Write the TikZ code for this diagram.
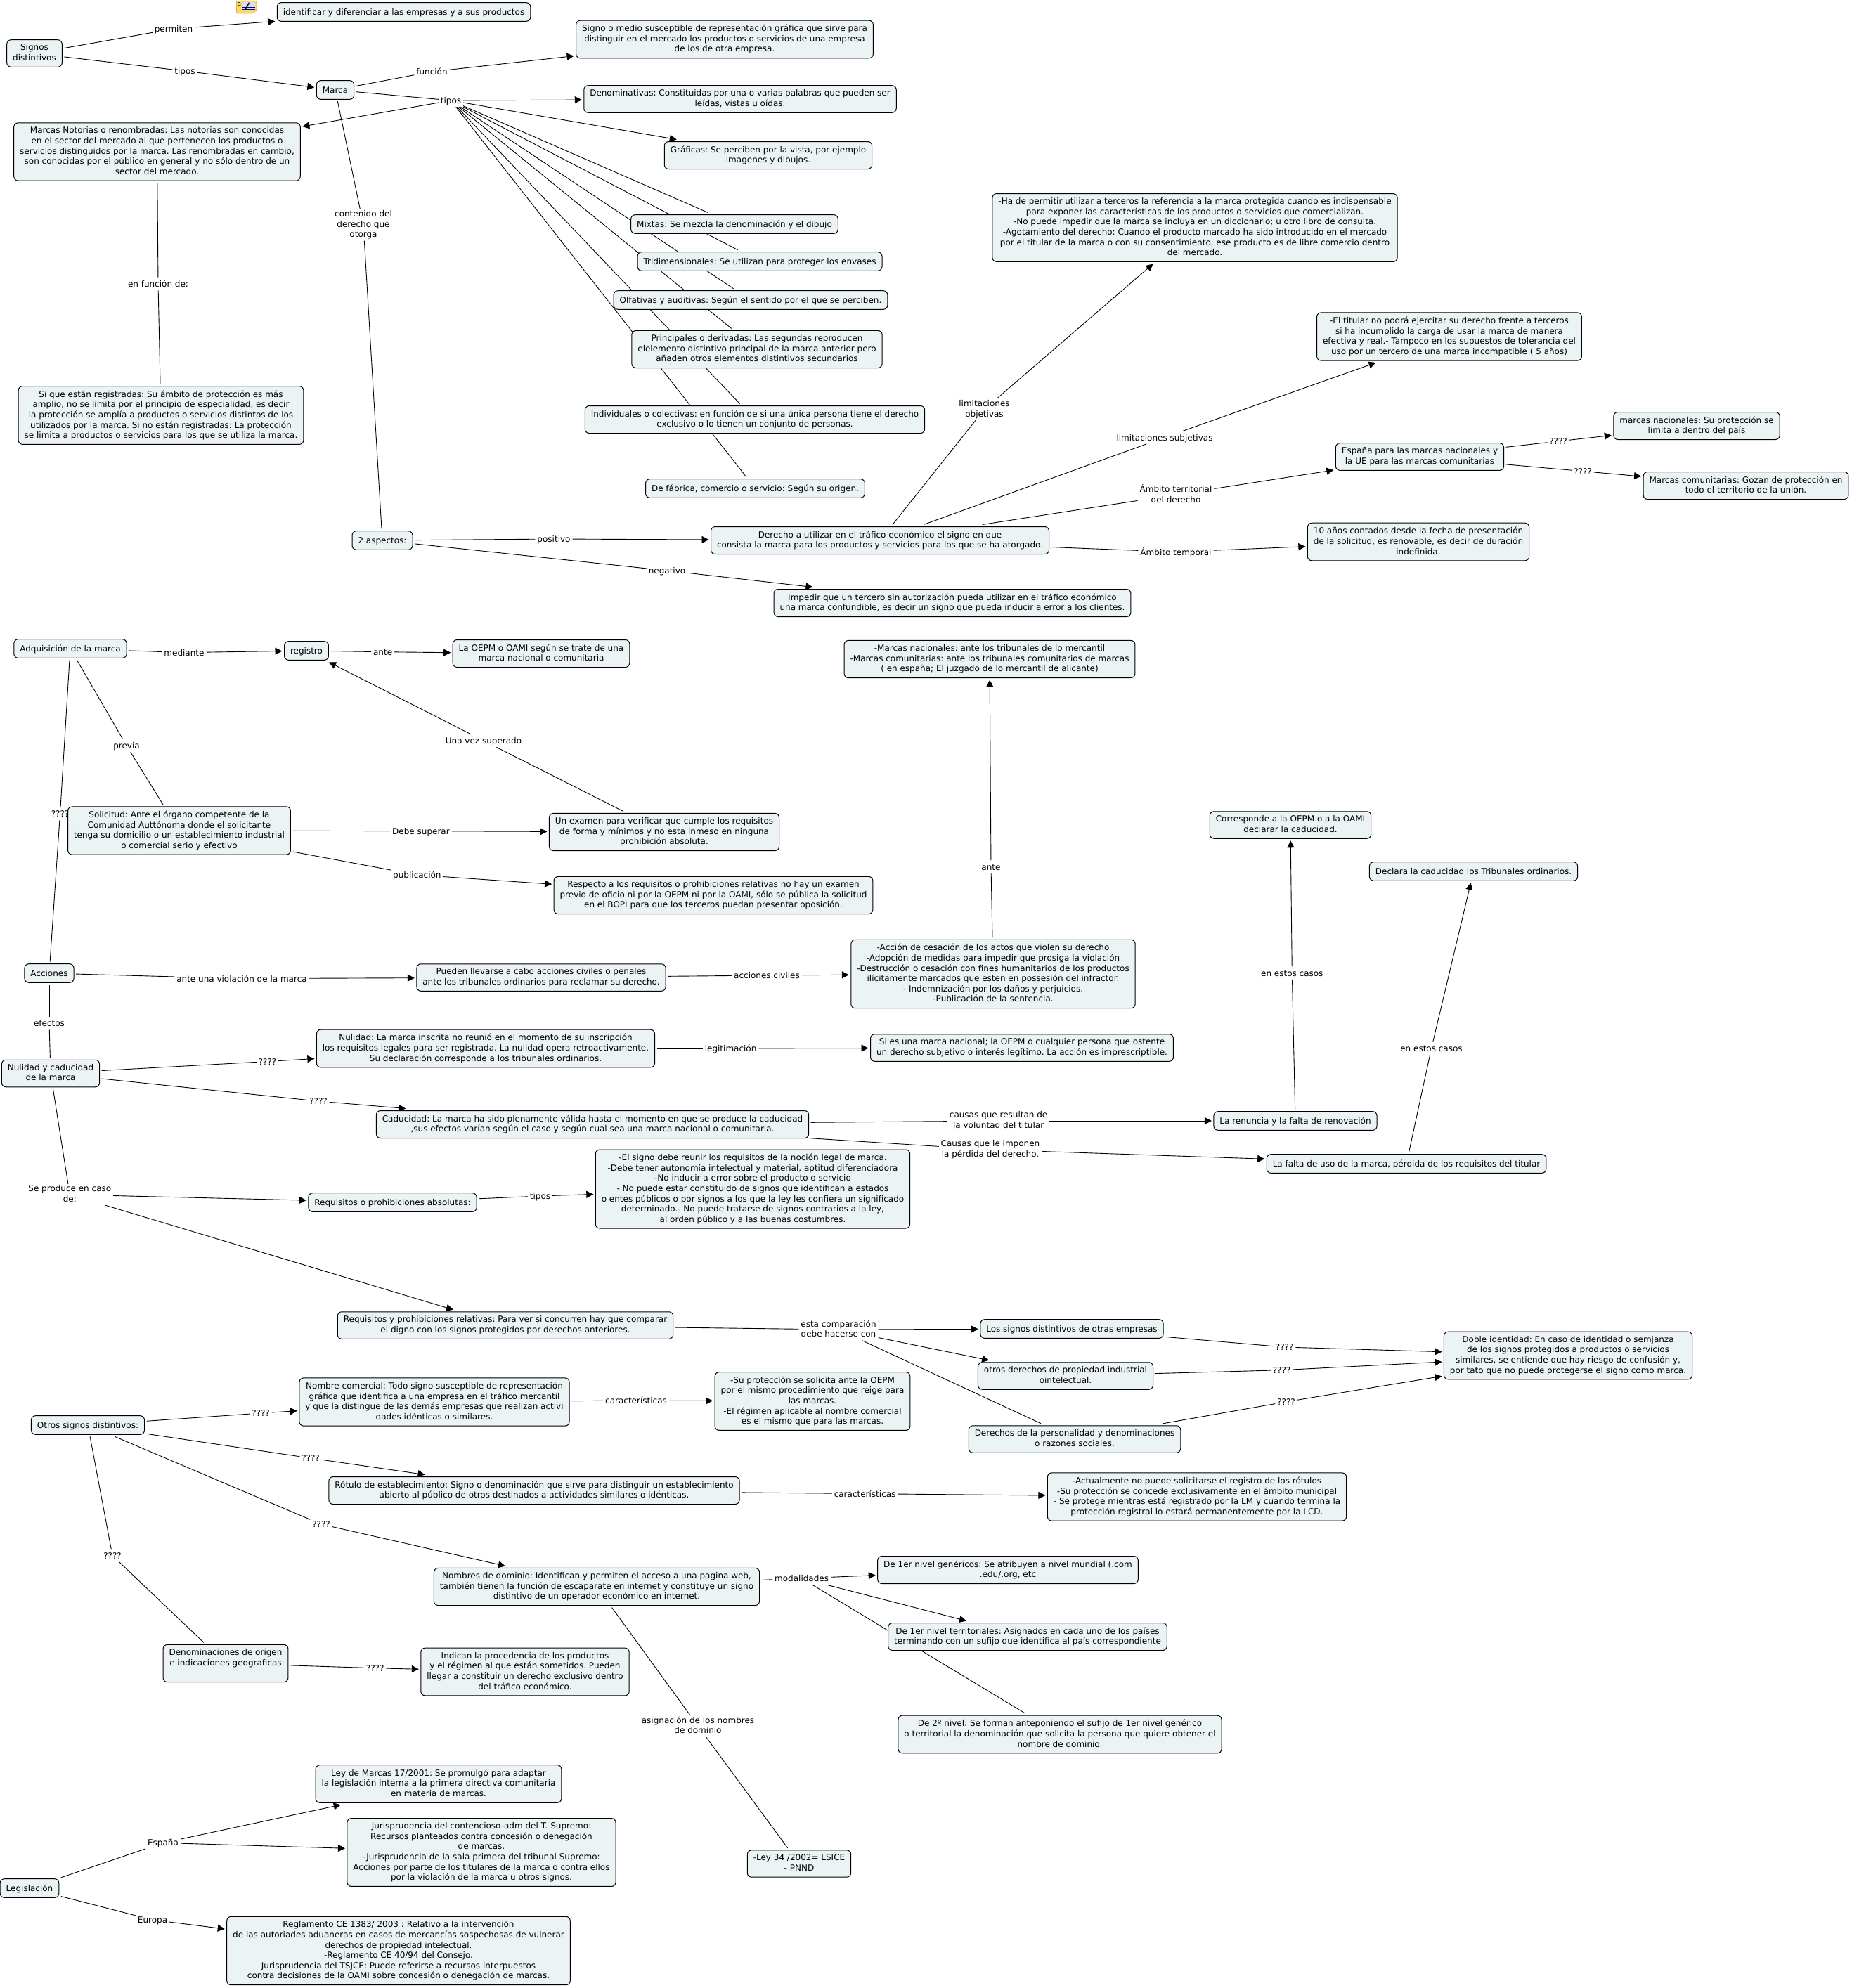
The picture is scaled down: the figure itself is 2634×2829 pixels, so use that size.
\documentclass[tikz,border=0pt]{standalone}
\usepackage{fontspec}
\setmainfont{DejaVu Sans}
\frenchspacing
\usetikzlibrary{arrows.meta, backgrounds}
\definecolor{BoxFill}{HTML}{ECF3F5}
\definecolor{NoteYellow}{HTML}{FFD968}
\definecolor{NoteEdge}{HTML}{E3B23C}
\definecolor{NotePanel}{HTML}{CFE3F5}
\newcommand{\mapstrut}{\rule[-2.8pt]{0pt}{14.6pt}}
\tikzset{
  map text/.style={
    font=\fontsize{12}{14.6}\selectfont,
    align=center,
    execute at begin node=\mapstrut,
    execute at end node=\mapstrut,
  },
  concept/.style={
    map text,
    draw=black,
    line width=1pt,
    fill=BoxFill,
    rectangle,
    rounded corners=6pt,
    inner xsep=8.5pt,
    inner ysep=6pt,
    outer sep=3pt,
  },
  phrase/.style={
    map text,
    inner xsep=2pt,
    inner ysep=1pt,
    outer sep=1pt,
  },
  link plain/.style={
    draw=black,
    line width=0.9pt,
  },
  link arrow/.style={
    link plain,
    -{Triangle[length=10pt,width=10pt]},
  },
}
\begin{document}
\begin{tikzpicture}[x=1pt,y=-1pt]
  \useasboundingbox (0,0) rectangle (2634,2829);

  \node[concept] (signos) at (49,76) {Signos\\distintivos};
  \node[concept] (identificar) at (574.5,17) {identificar y diferenciar a las empresas y a sus productos};
  \node[concept] (marca) at (477,128) {Marca};
  \node[concept] (signomedio) at (1031,56) {Signo o medio susceptible de representación gráfica que sirve para\\distinguir en el mercado los productos o servicios de una empresa\\de los de otra empresa.};
  \node[concept] (denominativas) at (1053,141) {Denominativas: Constituidas por una o varias palabras que pueden ser\\leídas, vistas u oídas.};
  \node[concept] (graficas) at (1093,221) {Gráficas: Se perciben por la vista, por ejemplo\\imagenes y dibujos.};
  \node[concept] (notorias) at (223.5,216) {Marcas Notorias o renombradas: Las notorias son conocidas\\en el sector del mercado al que pertenecen los productos o\\servicios distinguidos por la marca. Las renombradas en cambio,\\son conocidas por el público en general y no sólo dentro de un\\sector del mercado.};
  \node[concept] (mixtas) at (1045,319) {Mixtas: Se mezcla la denominación y el dibujo};
  \node[concept] (tridim) at (1081,372) {Tridimensionales: Se utilizan para proteger los envases};
  \node[concept] (olfativas) at (1068,427) {Olfativas y auditivas: Según el sentido por el que se perciben.};
  \node[concept] (principales) at (1077,497) {Principales o derivadas: Las segundas reproducen\\elelemento distintivo principal de la marca anterior pero\\añaden otros elementos distintivos secundarios};
  \node[concept] (individuales) at (1074,597) {Individuales o colectivas: en función de si una única persona tiene el derecho\\exclusivo o lo tienen un conjunto de personas.};
  \node[concept] (fabrica) at (1074.5,695) {De fábrica, comercio o servicio: Según su origen.};
  \node[concept] (registradas) at (229,591) {Si que están registradas: Su ámbito de protección es más\\amplio, no se limita por el principio de especialidad, es decir\\la protección se amplía a productos o servicios distintos de los\\utilizados por la marca. Si no están registradas: La protección\\se limita a productos o servicios para los que se utiliza la marca.};
  \node[concept] (aspectos) at (544,769) {2 aspectos:};
  \node[concept] (derecho) at (1252,769) {Derecho a utilizar en el tráfico económico el signo en que\\consista la marca para los productos y servicios para los que se ha atorgado.};
  \node[concept] (impedir) at (1355,858) {Impedir que un tercero sin autorización pueda utilizar en el tráfico económico\\una marca confundible, es decir un signo que pueda inducir a error a los clientes.};
  \node[concept] (permitir) at (1700,324) {-Ha de permitir utilizar a terceros la referencia a la marca protegida cuando es indispensable\\para exponer las características de los productos o servicios que comercializan.\\-No puede impedir que la marca se incluya en un diccionario; u otro libro de consulta.\\-Agotamiento del derecho: Cuando el producto marcado ha sido introducido en el mercado\\por el titular de la marca o con su consentimiento, ese producto es de libre comercio dentro\\del mercado.};
  \node[concept] (titular) at (2062,479) {-El titular no podrá ejercitar su derecho frente a terceros\\si ha incumplido la carga de usar la marca de manera\\efectiva y real.- Tampoco en los supuestos de tolerancia del\\uso por un tercero de una marca incompatible ( 5 años)};
  \node[concept] (espana) at (2020,650) {España para las marcas nacionales y\\la UE para las marcas comunitarias};
  \node[concept] (nacionales) at (2414,606) {marcas nacionales: Su protección se\\limita a dentro del país};
  \node[concept] (comunitarias) at (2484,691) {Marcas comunitarias: Gozan de protección en\\todo el territorio de la unión.};
  \node[concept] (anos) at (2018,771) {10 años contados desde la fecha de presentación\\de la solicitud, es renovable, es decir de duración\\indefinida.};

  \node[concept] (adquisicion) at (100,923) {Adquisición de la marca};
  \node[concept] (registro) at (436,926) {registro};
  \node[concept] (oepm) at (770,930) {La OEPM o OAMI según se trate de una\\marca nacional o comunitaria};
  \node[concept] (solicitud) at (255,1182) {Solicitud: Ante el órgano competente de la\\Comunidad Auttónoma donde el solicitante\\tenga su domicilio o un establecimiento industrial\\o comercial serio y efectivo};
  \node[concept] (examen) at (945,1184) {Un examen para verificar que cumple los requisitos\\de forma y mínimos y no esta inmeso en ninguna\\prohibición absoluta.};
  \node[concept] (respecto) at (1015,1274) {Respecto a los requisitos o prohibiciones relativas no hay un examen\\previo de oficio ni por la OEPM ni por la OAMI, sólo se pública la solicitud\\en el BOPI para que los terceros puedan presentar oposición.};
  \node[concept] (tribunales) at (1408,938) {-Marcas nacionales: ante los tribunales de lo mercantil\\-Marcas comunitarias: ante los tribunales comunitarios de marcas\\( en españa; El juzgado de lo mercantil de alicante)};
  \node[concept] (acciones) at (70,1385) {Acciones};
  \node[concept] (pueden) at (770,1391) {Pueden llevarse a cabo acciones civiles o penales\\ante los tribunales ordinarios para reclamar su derecho.};
  \node[concept] (cesacion) at (1413,1386) {-Acción de cesación de los actos que violen su derecho\\-Adopción de medidas para impedir que prosiga la violación\\-Destrucción o cesación con fines humanitarios de los productos\\ilícitamente marcados que esten en possesión del infractor.\\- Indemnización por los daños y perjuicios.\\-Publicación de la sentencia.};
  \node[concept] (nulcad) at (72,1527.5) {Nulidad y caducidad\\de la marca};
  \node[concept] (nulidad) at (691,1492) {Nulidad: La marca inscrita no reunió en el momento de su inscripción\\los requisitos legales para ser registrada. La nulidad opera retroactivamente.\\Su declaración corresponde a los tribunales ordinarios.};
  \node[concept] (siesuna) at (1454,1491) {Si es una marca nacional; la OEPM o cualquier persona que ostente\\un derecho subjetivo o interés legítimo. La acción es imprescriptible.};
  \node[concept] (corresponde) at (1836,1174) {Corresponde a la OEPM o a la OAMI\\declarar la caducidad.};
  \node[concept] (declara) at (2096.5,1240) {Declara la caducidad los Tribunales ordinarios.};
  \node[concept] (renuncia) at (1843,1595) {La renuncia y la falta de renovación};
  \node[concept] (falta) at (2001,1656) {La falta de uso de la marca, pérdida de los requisitos del titular};
  \node[concept] (caducidad) at (843,1600) {Caducidad: La marca ha sido plenamente válida hasta el momento en que se produce la caducidad\\,sus efectos varían según el caso y según cual sea una marca nacional o comunitaria.};
  \node[concept] (absolutas) at (558.5,1711) {Requisitos o prohibiciones absolutas:};
  \node[concept] (elsigno) at (1071,1692) {-El signo debe reunir los requisitos de la noción legal de marca.\\-Debe tener autonomía intelectual y material, aptitud diferenciadora\\-No inducir a error sobre el producto o servicio\\- No puede estar constituido de signos que identifican a estados\\o entes públicos o por signos a los que la ley les confiera un significado\\determinado.- No puede tratarse de signos contrarios a la ley,\\al orden público y a las buenas costumbres.};

  \node[concept] (relativas) at (719,1886) {Requisitos y prohibiciones relativas: Para ver si concurren hay que comparar\\el digno con los signos protegidos por derechos anteriores.};
  \node[concept] (lossignos) at (1525,1891) {Los signos distintivos de otras empresas};
  \node[concept] (otrosder) at (1516,1958) {otros derechos de propiedad industrial\\ointelectual.};
  \node[concept] (personalidad) at (1529,2048) {Derechos de la personalidad y denominaciones\\o razones sociales.};
  \node[concept] (doble) at (2231,1929) {Doble identidad: En caso de identidad o semjanza\\de los signos protegidos a productos o servicios\\similares, se entiende que hay riesgo de confusión y,\\por tato que no puede protegerse el signo como marca.};
  \node[concept] (otros) at (125,2028) {Otros signos distintivos:};
  \node[concept] (comercial) at (618,1995) {Nombre comercial: Todo signo susceptible de representación\\gráfica que identifica a una empresa en el tráfico mercantil\\y que la distingue de las demás empresas que realizan activi\\dades idénticas o similares.};
  \node[concept] (suprot) at (1156,1994) {-Su protección se solicita ante la OEPM\\por el mismo procedimiento que reige para\\las marcas.\\-El régimen aplicable al nombre comercial\\es el mismo que para las marcas.};
  \node[concept] (rotulo) at (760,2121) {Rótulo de establecimiento: Signo o denominación que sirve para distinguir un establecimiento\\abierto al público de otros destinados a actividades similares o idénticas.};
  \node[concept] (actualmente) at (1703,2130) {-Actualmente no puede solicitarse el registro de los rótulos\\-Su protección se concede exclusivamente en el ámbito municipal\\- Se protege mientras está registrado por la LM y cuando termina la\\protección registral lo estará permanentemente por la LCD.};
  \node[concept] (dominio) at (849,2258) {Nombres de dominio: Identifican y permiten el acceso a una pagina web,\\también tienen la función de escaparate en internet y constituye un signo\\distintivo de un operador económico en internet.};
  \node[concept] (genericos) at (1434,2234) {De 1er nivel genéricos: Se atribuyen a nivel mundial (.com\\.edu/.org, etc};
  \node[concept] (territoriales) at (1462,2329) {De 1er nivel territoriales: Asignados en cada uno de los países\\terminando con un sufijo que identifica al país correspondiente};
  \node[concept] (segundo) at (1508,2468) {De 2º nivel: Se forman anteponiendo el sufijo de 1er nivel genérico\\o territorial la denominación que solicita la persona que quiere obtener el\\nombre de dominio.};
  \node[concept] (origen) at (321,2367) {Denominaciones de origen\\e indicaciones geograficas\\~};
  \node[concept] (indican) at (747,2379) {Indican la procedencia de los productos\\y el régimen al que están sometidos. Pueden\\llegar a constituir un derecho exclusivo dentro\\del tráfico económico.};
  \node[concept] (leymarcas) at (624,2538.5) {Ley de Marcas 17/2001: Se promulgó para adaptar\\la legislación interna a la primera directiva comunitaria\\en materia de marcas.};
  \node[concept] (jurispr) at (685,2636) {Jurisprudencia del contencioso-adm del T. Supremo:\\Recursos planteados contra concesión o denegación\\de marcas.\\-Jurisprudencia de la sala primera del tribunal Supremo:\\Acciones por parte de los titulares de la marca o contra ellos\\por la violación de la marca u otros signos.};
  \node[concept] (ley34) at (1137,2652) {-Ley 34 /2002= LSICE\\- PNND};
  \node[concept] (legislacion) at (42,2687) {Legislación};
  \node[concept] (reglamento) at (567,2776) {Reglamento CE 1383/ 2003 : Relativo a la intervención\\de las autoriades aduaneras en casos de mercancías sospechosas de vulnerar\\derechos de propiedad intelectual.\\-Reglamento CE 40/94 del Consejo.\\Jurisprudencia del TSJCE: Puede referirse a recursos interpuestos\\contra decisiones de la OAMI sobre concesión o denegación de marcas.};

  \node[phrase] (pPermiten) at (247,41) {permiten};
  \node[phrase] (pTipos) at (263,101) {tipos};
  \node[phrase] (pFuncion) at (614.5,102) {función};
  \node[phrase] (pTiposMarca) at (641.5,143) {tipos};
  \node[phrase] (pContenido) at (517,320) {contenido del\\derecho que\\otorga};
  \node[phrase] (pEnFuncion) at (225,404) {en función de:};
  \node[phrase] (pPositivo) at (788,767) {positivo};
  \node[phrase] (pNegativo) at (949,812) {negativo};
  \node[phrase] (pObjetivas) at (1400.5,582.6) {limitaciones\\objetivas};
  \node[phrase] (pSubjetivas) at (1657,622.5) {limitaciones subjetivas};
  \node[phrase] (pTerritorial) at (1673,704) {Ámbito territorial\\del derecho};
  \node[phrase] (pTemporal) at (1673,785.5) {Ámbito temporal};
  \node[phrase] (pNac) at (2217,628) {????};
  \node[phrase] (pCom) at (2252,670.6) {????};
  \node[phrase] (pMediante) at (262,928.6) {mediante};
  \node[phrase] (pAnte) at (544.6,927.7) {ante};
  \node[phrase] (pPrevia) at (180,1061) {previa};
  \node[phrase] (pAdq) at (85.5,1158) {????};
  \node[phrase] (pUnaVez) at (688,1054) {Una vez superado};
  \node[phrase] (pDebe) at (599,1182.7) {Debe superar};
  \node[phrase] (pPublicacion) at (593.4,1245) {publicación};
  \node[phrase] (pViolacion) at (344,1392.6) {ante una violación de la marca};
  \node[phrase] (pCiviles) at (1091,1388) {acciones civiles};
  \node[phrase] (pAnteTrib) at (1410,1233.6) {ante};
  \node[phrase] (pEfectos) at (70,1456) {efectos};
  \node[phrase] (pLegit) at (1039.6,1492) {legitimación};
  \node[phrase] (pNul) at (380.5,1510.5) {????};
  \node[phrase] (pCad) at (453,1567) {????};
  \node[phrase] (pCasosA) at (1838.3,1384.6) {en estos casos};
  \node[phrase] (pCasosB) at (2036.5,1492) {en estos casos};
  \node[phrase] (pVoluntad) at (1420.6,1595) {causas que resultan de\\la voluntad del titular};
  \node[phrase] (pImponen) at (1409,1636) {Causas que le imponen\\la pérdida del derecho.};
  \node[phrase] (pProduce) at (99.3,1700) {Se produce en caso\\de:};
  \node[phrase] (pTiposAbs) at (768.5,1702) {tipos};
  \node[phrase] (pCompara) at (1193,1892) {esta comparación\\debe hacerse con};
  \node[phrase] (pDobleA) at (1827.6,1917) {????};
  \node[phrase] (pDobleB) at (1823.5,1949.7) {????};
  \node[phrase] (pDobleC) at (1830,1994.8) {????};
  \node[phrase] (pComercial) at (371,2011) {????};
  \node[phrase] (pCarComercial) at (905,1993) {características};
  \node[phrase] (pRotulo) at (442,2075) {????};
  \node[phrase] (pCarRotulo) at (1230.6,2125.6) {características};
  \node[phrase] (pDominio) at (457,2169) {????};
  \node[phrase] (pOrigen) at (160,2213.6) {????};
  \node[phrase] (pModal) at (1140.6,2246) {modalidades};
  \node[phrase] (pAsignacion) at (993,2456) {asignación de los nombres\\de dominio};
  \node[phrase] (pIndican) at (533.7,2373.7) {????};
  \node[phrase] (pEspana) at (232,2622.4) {España};
  \node[phrase] (pEuropa) at (217,2732) {Europa};

  \begin{scope}[on background layer]
    \draw[link plain] (signos) -- (pPermiten);
    \draw[link arrow] (pPermiten) -- (identificar);
    \draw[link plain] (signos) -- (pTipos);
    \draw[link arrow] (pTipos) -- (marca);
    \draw[link plain] (marca) -- (pFuncion);
    \draw[link arrow] (pFuncion) -- (signomedio);
    \draw[link plain] (marca) -- (pTiposMarca);
    \draw[link arrow] (pTiposMarca) -- (denominativas);
    \draw[link arrow] (pTiposMarca) -- (graficas);
    \draw[link arrow] (pTiposMarca) -- (notorias);
    \foreach \target in {mixtas,tridim,olfativas,principales,individuales,fabrica}
      \draw[link plain] (pTiposMarca) -- (\target);
    \draw[link plain] (notorias) -- (pEnFuncion);
    \draw[link plain] (pEnFuncion) -- (registradas);
    \draw[link plain] (marca) -- (pContenido);
    \draw[link plain] (pContenido) -- (aspectos);
    \draw[link plain] (aspectos) -- (pPositivo);
    \draw[link arrow] (pPositivo) -- (derecho);
    \draw[link plain] (aspectos) -- (pNegativo);
    \draw[link arrow] (pNegativo) -- (impedir);
    \draw[link plain] (derecho) -- (pObjetivas);
    \draw[link arrow] (pObjetivas) -- (permitir);
    \draw[link plain] (derecho) -- (pSubjetivas);
    \draw[link arrow] (pSubjetivas) -- (titular);
    \draw[link plain] (derecho) -- (pTerritorial);
    \draw[link arrow] (pTerritorial) -- (espana);
    \draw[link plain] (derecho) -- (pTemporal);
    \draw[link arrow] (pTemporal) -- (anos);
    \draw[link plain] (espana) -- (pNac);
    \draw[link arrow] (pNac) -- (nacionales);
    \draw[link plain] (espana) -- (pCom);
    \draw[link arrow] (pCom) -- (comunitarias);

    \draw[link plain] (adquisicion) -- (pMediante);
    \draw[link arrow] (pMediante) -- (registro);
    \draw[link plain] (registro) -- (pAnte);
    \draw[link arrow] (pAnte) -- (oepm);
    \draw[link plain] (adquisicion) -- (pPrevia);
    \draw[link plain] (pPrevia) -- (solicitud);
    \draw[link plain] (adquisicion) -- (pAdq);
    \draw[link plain] (pAdq) -- (acciones);
    \draw[link plain] (solicitud) -- (pDebe);
    \draw[link arrow] (pDebe) -- (examen);
    \draw[link plain] (examen) -- (pUnaVez);
    \draw[link arrow] (pUnaVez) -- (registro);
    \draw[link plain] (solicitud) -- (pPublicacion);
    \draw[link arrow] (pPublicacion) -- (respecto);
    \draw[link plain] (acciones) -- (pViolacion);
    \draw[link arrow] (pViolacion) -- (pueden);
    \draw[link plain] (pueden) -- (pCiviles);
    \draw[link arrow] (pCiviles) -- (cesacion);
    \draw[link plain] (cesacion) -- (pAnteTrib);
    \draw[link arrow] (pAnteTrib) -- (tribunales);
    \draw[link plain] (acciones) -- (pEfectos);
    \draw[link plain] (pEfectos) -- (nulcad);
    \draw[link plain] (nulcad) -- (pNul);
    \draw[link arrow] (pNul) -- (nulidad);
    \draw[link plain] (nulidad) -- (pLegit);
    \draw[link arrow] (pLegit) -- (siesuna);
    \draw[link plain] (nulcad) -- (pCad);
    \draw[link arrow] (pCad) -- (caducidad);
    \draw[link plain] (caducidad) -- (pVoluntad);
    \draw[link arrow] (pVoluntad) -- (renuncia);
    \draw[link plain] (renuncia) -- (pCasosA);
    \draw[link arrow] (pCasosA) -- (corresponde);
    \draw[link plain] (caducidad) -- (pImponen);
    \draw[link arrow] (pImponen) -- (falta);
    \draw[link plain] (falta) -- (pCasosB);
    \draw[link arrow] (pCasosB) -- (declara);
    \draw[link plain] (nulcad) -- (pProduce);
    \draw[link arrow] (pProduce) -- (absolutas);
    \draw[link plain] (absolutas) -- (pTiposAbs);
    \draw[link arrow] (pTiposAbs) -- (elsigno);
    \draw[link arrow] (pProduce) -- (relativas);

    \draw[link plain] (relativas) -- (pCompara);
    \draw[link arrow] (pCompara) -- (lossignos);
    \draw[link arrow] (pCompara) -- (otrosder);
    \draw[link plain] (pCompara) -- (personalidad);
    \draw[link plain] (lossignos) -- (pDobleA);
    \draw[link arrow] (pDobleA) -- (doble);
    \draw[link plain] (otrosder) -- (pDobleB);
    \draw[link arrow] (pDobleB) -- (doble);
    \draw[link plain] (personalidad) -- (pDobleC);
    \draw[link arrow] (pDobleC) -- (doble);
    \draw[link plain] (otros) -- (pComercial);
    \draw[link arrow] (pComercial) -- (comercial);
    \draw[link plain] (comercial) -- (pCarComercial);
    \draw[link arrow] (pCarComercial) -- (suprot);
    \draw[link plain] (otros) -- (pRotulo);
    \draw[link arrow] (pRotulo) -- (rotulo);
    \draw[link plain] (rotulo) -- (pCarRotulo);
    \draw[link arrow] (pCarRotulo) -- (actualmente);
    \draw[link plain] (otros) -- (pDominio);
    \draw[link arrow] (pDominio) -- (dominio);
    \draw[link plain] (dominio) -- (pModal);
    \draw[link arrow] (pModal) -- (genericos);
    \draw[link arrow] (pModal) -- (territoriales);
    \draw[link plain] (pModal) -- (segundo);
    \draw[link plain] (dominio) -- (pAsignacion);
    \draw[link plain] (pAsignacion) -- (ley34);
    \draw[link plain] (otros) -- (pOrigen);
    \draw[link plain] (pOrigen) -- (origen);
    \draw[link plain] (origen) -- (pIndican);
    \draw[link arrow] (pIndican) -- (indican);
    \draw[link plain] (legislacion) -- (pEspana);
    \draw[link arrow] (pEspana) -- (leymarcas);
    \draw[link arrow] (pEspana) -- (jurispr);
    \draw[link plain] (legislacion) -- (pEuropa);
    \draw[link arrow] (pEuropa) -- (reglamento);
  \end{scope}

  \draw[NoteEdge, fill=NoteYellow, line width=1pt, rounded corners=1pt]
    (336.5,1.5) -- (365,1.5) -- (365,14) -- (360,19) -- (336.5,19) -- cycle;
  \fill[NotePanel] (345,3.5) rectangle (363,14);
  \foreach \liney in {5.5,8,10.5,13}
    \draw[blue!60!black, line width=0.5pt] (345,\liney) -- (363,\liney);
  \draw[black, line width=1.6pt] (349,13.5) -- (353,6.5);
  \draw[red!70!black, line width=2pt] (353,6.5) -- (354.5,3.8);
  \node[inner sep=0pt, font=\fontsize{9}{9}\selectfont] (noteLetter) at (340.5,6) {a};
\end{tikzpicture}
\end{document}
